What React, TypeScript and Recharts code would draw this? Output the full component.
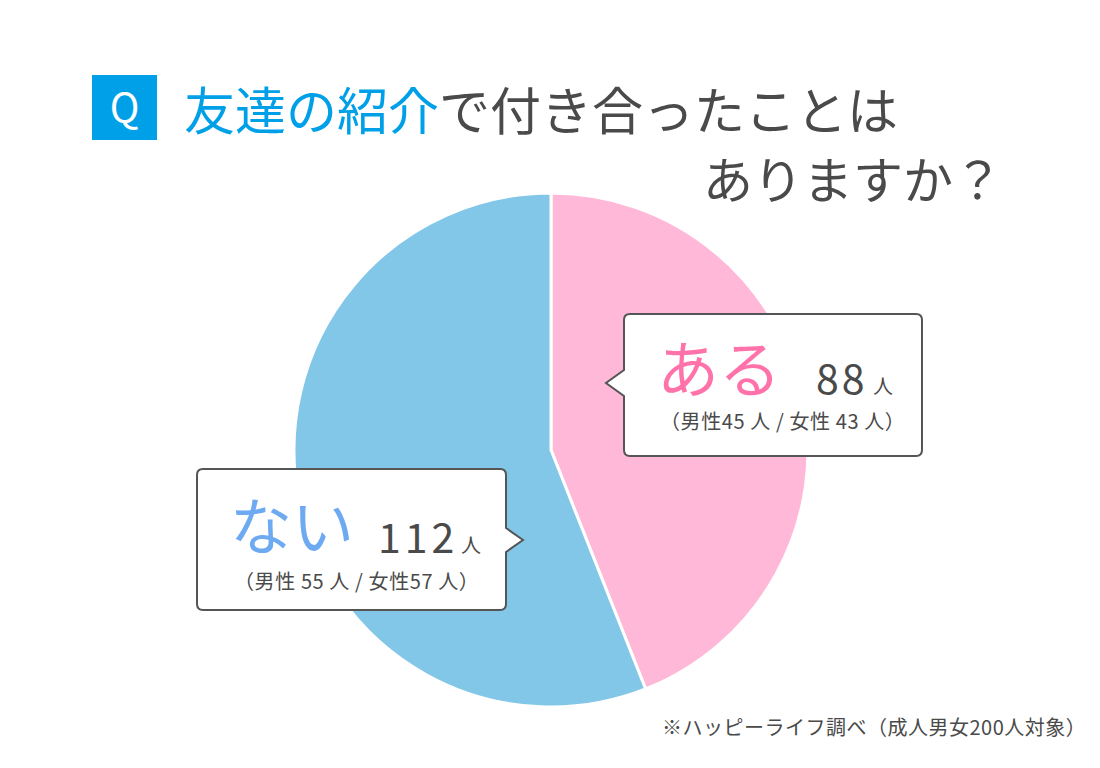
import { PieChart, Pie, Cell } from "recharts";

const answers = ["ある", "ない"];
const counts = [88, 112];
const maleCounts = [45, 55];
const femaleCounts = [43, 57];
const sliceColors = ["#ffb8d8", "#82c6e8"];
const answerColors = ["#ff72aa", "#6eaaf2"];

const titleBlue = "友達の紹介";
const titleRest = "で付き合ったことは";
const titleLine2 = "ありますか？";
const source = "※ハッピーライフ調べ（成人男女200人対象）";

const pieData = answers.map((name, i) => ({ name, value: counts[i] }));

const FONT = '"Noto Sans CJK JP", "Noto Sans", sans-serif';
const GRAY = "#4a4a4a";

function bubble(x1: number, y1: number, x2: number, y2: number, side: "left" | "right", tipX: number, tipY: number, half: number) {
  const r = 6;
  if (side === "left") {
    return `M${x1 + r},${y1} H${x2 - r} Q${x2},${y1} ${x2},${y1 + r} V${y2 - r} Q${x2},${y2} ${x2 - r},${y2} H${x1 + r} Q${x1},${y2} ${x1},${y2 - r} V${tipY + half} L${tipX},${tipY} L${x1},${tipY - half} V${y1 + r} Q${x1},${y1} ${x1 + r},${y1} Z`;
  }
  return `M${x1 + r},${y1} H${x2 - r} Q${x2},${y1} ${x2},${y1 + r} V${tipY - half} L${tipX},${tipY} L${x2},${tipY + half} V${y2 - r} Q${x2},${y2} ${x2 - r},${y2} H${x1 + r} Q${x1},${y2} ${x1},${y2 - r} V${y1 + r} Q${x1},${y1} ${x1 + r},${y1} Z`;
}

export default function App() {
  return (
    <div style={{ position: "absolute", left: 0, top: 0, width: 1100, height: 768, background: "#fff", fontFamily: FONT }}>
      <PieChart width={1100} height={768} margin={{ top: 0, right: 0, bottom: 0, left: 0 }}>
        <Pie
          data={pieData}
          dataKey="value"
          cx={551}
          cy={450}
          outerRadius={257}
          startAngle={90}
          endAngle={-270}
          stroke="#ffffff"
          strokeWidth={3}
          isAnimationActive={false}
        >
          {pieData.map((d, i) => (
            <Cell key={d.name} fill={sliceColors[i]} />
          ))}
        </Pie>
      </PieChart>
      <svg width={1100} height={768} style={{ position: "absolute", left: 0, top: 0, pointerEvents: "none" }} fontFamily={FONT}>
        {/* title */}
        <rect x={92} y={75} width={65} height={65} fill="#00a0e9" />
        <text x={124.5} y={122} fill="#fff" fontSize={40} textAnchor="middle">Q</text>
        <text x={184} y={130} fontSize={51} fill={GRAY}>
          <tspan fill="#00a0e9">{titleBlue}</tspan>
          <tspan>{titleRest}</tspan>
        </text>
        <text x={703} y={199} fontSize={50} fill={GRAY}>{titleLine2}</text>

        {/* ある callout */}
        <path d={bubble(624, 314, 922, 456, "left", 606, 383, 13)} fill="#fff" stroke="#555" strokeWidth={2} />
        <text x={657} y={393} fontSize={62} fill={answerColors[0]}>{answers[0]}</text>
        <text x={816} y={394} fontSize={41} letterSpacing={3} fill={GRAY}>{counts[0]}</text>
        <text x={873} y={394} fontSize={20} fill={GRAY}>人</text>
        <text x={660} y={429} fontSize={20} letterSpacing={0.6} fill={GRAY}>{`（男性${maleCounts[0]} 人 / 女性 ${femaleCounts[0]} 人）`}</text>

        {/* ない callout */}
        <path d={bubble(197, 469, 506, 610, "right", 523, 540, 12)} fill="#fff" stroke="#555" strokeWidth={2} />
        <text x={230} y={550} fontSize={62} fill={answerColors[1]}>{answers[1]}</text>
        <text x={378} y={553} fontSize={41} letterSpacing={4} fill={GRAY}>{counts[1]}</text>
        <text x={461} y={553} fontSize={20} fill={GRAY}>人</text>
        <text x={234} y={589} fontSize={20} letterSpacing={0.6} fill={GRAY}>{`（男性 ${maleCounts[1]} 人 / 女性${femaleCounts[1]} 人）`}</text>

        {/* source */}
        <text x={662} y={735} fontSize={20} letterSpacing={0.5} fill={GRAY}>{source}</text>
      </svg>
    </div>
  );
}
